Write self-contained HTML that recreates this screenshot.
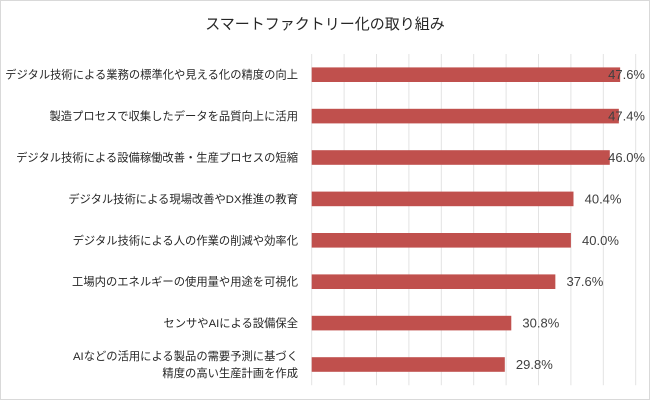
<!DOCTYPE html>
<html><head><meta charset="utf-8"><style>
html,body{margin:0;padding:0;background:#fff}
svg{display:block;font-family:"Liberation Sans","Noto Sans CJK JP",sans-serif}
</style></head><body>
<svg id="chart" width="650" height="401" viewBox="0 0 650 401">
<rect x="0.5" y="0.5" width="649" height="399" fill="#fff" stroke="#d9d9d9"/>
<text x="325" y="29" text-anchor="middle" font-size="15" fill="#262626">スマートファクトリー化の取り組み</text>
<g id="grid"></g><g id="bars"></g><g id="labels"></g><g id="values"></g>
</svg>
<script>
const categories=[["デジタル技術による業務の標準化や見える化の精度の向上"],["製造プロセスで収集したデータを品質向上に活用"],["デジタル技術による設備稼働改善・生産プロセスの短縮"],["デジタル技術による現場改善やDX推進の教育"],["デジタル技術による人の作業の削減や効率化"],["工場内のエネルギーの使用量や用途を可視化"],["センサやAIによる設備保全"],["AIなどの活用による製品の需要予測に基づく","精度の高い生産計画を作成"]];
const values=[47.6,47.4,46.0,40.4,40.0,37.6,30.8,29.8];
const valueLabels=["47.6%","47.4%","46.0%","40.4%","40.0%","37.6%","30.8%","29.8%"];
const gridTicks=[0,5,10,15,20,25,30,35,40,45,50];
const NS="http://www.w3.org/2000/svg";
const X0=311.7,X1=635.7,XMAX=50,Y0=54,BAND=41.4,BH=14.6;
const x=v=>X0+(v/XMAX)*(X1-X0);
const yc=i=>Y0+BAND*(i+0.5);
function mk(t,a,p){const e=document.createElementNS(NS,t);for(const k in a)e.setAttribute(k,a[k]);p.appendChild(e);return e;}
const g=document.getElementById('grid'),b=document.getElementById('bars'),l=document.getElementById('labels'),vg=document.getElementById('values');
gridTicks.forEach(t=>{const e=mk('line',{x1:x(t),x2:x(t),y1:Y0,y2:Y0+BAND*categories.length,stroke:'#e3e3e3','stroke-width':1},g);

});
values.forEach((v,i)=>{
const r=mk('rect',{x:X0,y:yc(i)-BH/2,width:x(v)-X0,height:BH,fill:'#c0504d'},b);


const tx=Math.min(x(v)+8+40,645);
const t=mk('text',{x:tx,y:yc(i)+4.5,'text-anchor':'end','font-size':13,fill:'#404040'},vg);
t.textContent=valueLabels[i];


const lines=categories[i];
lines.forEach((s,j)=>{const c=mk('text',{x:298,y:yc(i)+4+(j-(lines.length-1)/2)*17,'text-anchor':'end','font-size':11.3,fill:'#262626'},l);
c.textContent=s;

});
});
</script>
</body></html>
